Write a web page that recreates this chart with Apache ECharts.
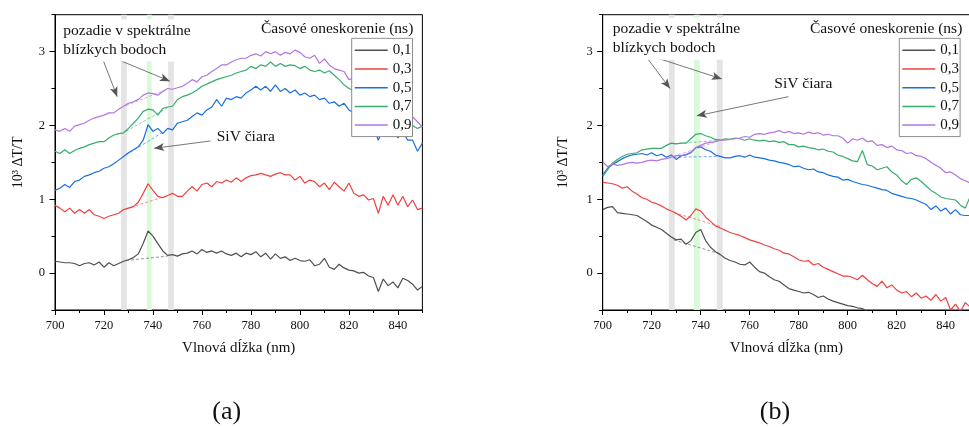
<!DOCTYPE html>
<html>
<head>
<meta charset="utf-8">
<script src="https://cdn.jsdelivr.net/npm/echarts@6/dist/echarts.min.js"></script>
<style>
html,body{margin:0;padding:0;background:#fff;}
#c{width:969px;height:427px;}
</style>
</head>
<body>
<div id="c"></div>
<script>
// ---------- data ----------
const wl = [700,702,704,706,708,710,712,714,716,718,720,722,724,726,728,730,732,734,736,738,
740,742,744,746,748,750,752,754,756,758,760,762,764,766,768,770,772,774,776,778,
780,782,784,786,788,790,792,794,796,798,800,802,804,806,808,810,812,814,816,818,
820,822,824,826,828,830,832,834,836,838,840,842,844,846,848,850];
const delays = ['0,1','0,3','0,5','0,7','0,9'];
const colors = ['#505050','#f14040','#1a6fdf','#37ad6b','#b177de'];

// panel (a)
const a01 = [0.16,0.15,0.14,0.14,0.13,0.10,0.13,0.14,0.11,0.15,
0.08,0.14,0.10,0.13,0.16,0.18,0.21,0.26,0.40,0.57,
0.50,0.40,0.30,0.24,0.25,0.23,0.26,0.27,0.30,0.26,
0.32,0.28,0.30,0.27,0.30,0.26,0.24,0.27,0.22,0.27,
0.25,0.29,0.22,0.27,0.19,0.26,0.20,0.22,0.17,0.20,
0.17,0.16,0.18,0.10,0.12,0.20,0.08,0.05,0.12,0.07,
0.04,0.03,0.00,0.01,-0.04,-0.06,-0.25,-0.08,-0.17,-0.12,
-0.20,-0.07,-0.10,-0.15,-0.23,-0.18];
const a03 = [0.92,0.88,0.83,0.88,0.81,0.86,0.81,0.86,0.79,0.77,
0.74,0.77,0.79,0.81,0.86,0.88,0.90,0.96,1.08,1.21,
1.12,1.04,1.02,1.05,1.08,1.04,1.04,1.11,1.17,1.11,
1.20,1.22,1.17,1.24,1.22,1.26,1.23,1.29,1.24,1.29,
1.32,1.33,1.35,1.33,1.31,1.34,1.36,1.33,1.33,1.26,
1.31,1.22,1.26,1.24,1.17,1.22,1.13,1.23,1.17,1.11,
1.22,1.08,1.04,1.06,0.99,1.01,0.81,1.04,0.92,1.06,
0.92,1.04,0.90,0.99,0.86,0.88];
const a05 = [1.12,1.15,1.20,1.16,1.24,1.26,1.31,1.33,1.36,1.38,
1.42,1.44,1.48,1.53,1.58,1.63,1.67,1.71,1.80,2.01,
1.92,1.96,1.89,1.96,1.94,2.03,2.05,2.07,2.12,2.17,
2.14,2.21,2.25,2.35,2.26,2.37,2.35,2.39,2.37,2.44,
2.48,2.53,2.48,2.53,2.46,2.55,2.46,2.50,2.44,2.48,
2.41,2.44,2.39,2.41,2.35,2.37,2.30,2.32,2.26,2.30,
2.21,2.17,2.14,2.07,2.03,1.98,1.80,1.96,1.85,1.96,
1.83,1.92,1.80,1.80,1.65,1.76];
const a07 = [1.65,1.62,1.67,1.62,1.66,1.69,1.71,1.74,1.76,1.78,
1.78,1.83,1.87,1.89,1.90,1.96,2.03,2.10,2.19,2.22,
2.21,2.14,2.23,2.25,2.26,2.35,2.39,2.41,2.44,2.48,
2.53,2.56,2.59,2.62,2.64,2.66,2.68,2.71,2.73,2.75,
2.80,2.77,2.82,2.80,2.86,2.80,2.84,2.80,2.82,2.81,
2.77,2.80,2.75,2.73,2.75,2.71,2.74,2.68,2.62,2.55,
2.50,2.47,2.44,2.40,2.36,2.32,2.28,2.24,2.20,2.16,
2.12,2.08,2.04,2.00,1.96,1.99];
const a09 = [1.94,1.92,1.96,1.92,1.99,2.01,2.03,2.07,2.10,2.12,
2.14,2.17,2.17,2.22,2.26,2.30,2.32,2.35,2.41,2.44,
2.43,2.41,2.46,2.50,2.49,2.51,2.53,2.57,2.62,2.59,
2.66,2.68,2.73,2.77,2.82,2.82,2.86,2.89,2.91,2.91,
2.95,2.97,2.94,3.00,2.97,3.00,2.95,2.99,2.97,3.02,
2.99,2.93,2.91,2.95,2.84,2.90,2.82,2.77,2.75,2.73,
2.62,2.64,2.62,2.59,2.57,2.55,2.50,2.45,2.40,2.35,
2.30,2.25,2.18,2.12,2.05,1.98];

// panel (b)
const b01 = [0.86,0.89,0.90,0.82,0.81,0.80,0.79,0.78,0.74,0.70,
0.65,0.62,0.59,0.54,0.49,0.45,0.46,0.39,0.44,0.55,
0.59,0.44,0.35,0.29,0.25,
0.20,0.17,0.15,0.12,0.11,0.15,0.08,0.02,0.00,-0.05,
-0.09,-0.11,-0.16,-0.21,-0.23,-0.25,-0.27,-0.26,-0.29,-0.33,
-0.31,-0.35,-0.38,-0.40,-0.42,-0.44,-0.45,-0.47,-0.48,-0.52];
const b03 = [1.23,1.22,1.21,1.19,1.15,1.17,1.11,1.07,1.02,1.00,
0.96,0.94,0.91,0.87,0.84,0.81,0.77,0.72,0.78,0.87,
0.84,0.76,0.70,0.64,0.61,0.58,0.55,0.53,0.51,0.48,
0.45,0.43,0.41,0.38,0.36,0.33,0.31,0.27,0.26,0.22,
0.18,0.16,0.17,0.11,0.13,0.08,0.05,0.02,-0.01,-0.04,
-0.04,-0.06,-0.09,-0.03,-0.09,-0.14,-0.18,-0.11,-0.20,-0.16,
-0.23,-0.27,-0.25,-0.32,-0.27,-0.34,-0.31,-0.37,-0.29,-0.38,
-0.33,-0.50,-0.42,-0.52,-0.40,-0.46];
const b05 = [1.33,1.42,1.47,1.51,1.55,1.58,1.60,1.61,1.62,1.60,
1.63,1.59,1.61,1.57,1.60,1.54,1.59,1.60,1.63,1.70,
1.71,1.67,1.65,1.60,1.58,1.56,1.56,1.58,1.59,1.57,
1.60,1.57,1.56,1.55,1.53,1.52,1.50,1.49,1.47,1.44,
1.45,1.42,1.40,1.41,1.37,1.36,1.33,1.31,1.30,1.26,
1.27,1.24,1.22,1.20,1.19,1.17,1.15,1.13,1.12,1.08,
1.06,1.04,1.02,1.01,0.99,0.96,0.93,0.86,0.91,0.84,
0.88,0.80,0.86,0.79,0.78,0.78];
const b07 = [1.31,1.40,1.49,1.54,1.58,1.61,1.62,1.63,1.67,1.68,
1.69,1.69,1.69,1.73,1.76,1.75,1.76,1.76,1.82,1.88,
1.89,1.86,1.84,1.81,1.80,1.82,1.81,1.83,1.82,1.80,
1.82,1.80,1.79,1.80,1.78,1.79,1.77,1.78,1.74,1.74,
1.71,1.72,1.70,1.69,1.67,1.68,1.65,1.64,1.60,1.58,
1.55,1.52,1.51,1.66,1.47,1.45,1.40,1.42,1.44,1.37,
1.33,1.25,1.20,1.27,1.29,1.24,1.18,1.12,1.08,1.03,
1.01,1.00,0.99,0.92,0.88,1.04];
const b09 = [1.51,1.44,1.48,1.46,1.47,1.49,1.50,1.49,1.50,1.52,
1.53,1.52,1.54,1.55,1.57,1.59,1.59,1.61,1.64,1.70,
1.73,1.76,1.77,1.78,1.80,1.80,1.81,1.82,1.83,1.85,
1.84,1.88,1.89,1.88,1.90,1.91,1.93,1.90,1.92,1.89,
1.90,1.88,1.91,1.89,1.90,1.87,1.88,1.86,1.86,1.83,
1.76,1.82,1.80,1.83,1.78,1.79,1.73,1.74,1.70,1.72,
1.67,1.66,1.62,1.63,1.59,1.58,1.55,1.50,1.46,1.42,
1.36,1.37,1.33,1.28,1.25,1.22];

// background (dashed) lines between the two grey bands
const bgAx = [729, 746];
const bgA01 = [0.17, 0.23], bgA03 = [0.87, 1.05], bgA05 = [1.60, 1.95], bgA07 = [1.92, 2.24], bgA09 = [2.27, 2.49];
const bgBx = [729, 748];
const bgB01 = [0.45, 0.26], bgB03 = [0.82, 0.63], bgB05 = [1.57, 1.58], bgB07 = [1.75, 1.80], bgB09 = [1.58, 1.80];

// bands (nm)
const bandsA = [[727, 729.3], [737.5, 739.5], [746.2, 748.5]];
const bandsB = [[727, 729.4], [737.2, 739.6], [746.6, 749.0]];

// ticks
const xMajor = [700,720,740,760,780,800,820,840];
const xMinor = [710,730,750,770,790,810,830,850];
const yMajor = [0,1,2,3];
const yMinor = [-0.5,0.5,1.5,2.5,3.5];

// annotation arrows (data coords)
const arrowsA = [[[719.0,2.94],[725.4,2.39]], [[726.5,2.88],[746.9,2.60]], [[763.5,1.79],[740.5,1.69]]];
const arrowsB = [[[717.3,2.95],[727.5,2.50]], [[721.6,2.92],[748.6,2.63]], [[775.8,2.39],[738.4,2.13]]];

// ---------- chart ----------
const FONT = '"Liberation Serif","Times New Roman",serif';
const chart = echarts.init(document.getElementById('c'), null, {renderer:'canvas'});

const grids = [
  {left:55, top:14.7, width:367.4, height:295.3},
  {left:602.7, top:14.7, width:367.5, height:295.3}
];

function xAxes(gi){
  return [
    {type:'value', gridIndex:gi, position:'bottom', min:700, max:850, interval:20,
     name: 'Vlnová dĺžka (nm)', nameLocation:'middle', nameGap:31,
     nameTextStyle:{fontFamily:FONT, fontSize:15, color:'#111'},
     axisLine:{show:true, onZero:false, lineStyle:{color:'#000', width:1}},
     axisTick:{show:true, length:5, customValues:xMajor, lineStyle:{color:'#000'}},
     axisLabel:{customValues:xMajor, margin:9, fontFamily:FONT, fontSize:12.5, color:'#111',
       formatter:v => (v % 20 === 0 && v < 850) ? String(v) : ''},
     splitLine:{show:false}},
    {type:'value', gridIndex:gi, position:'bottom', min:700, max:850, interval:10,
     axisLine:{show:false, onZero:false},
     axisTick:{show:true, length:3, customValues:xMinor, lineStyle:{color:'#000'}},
     axisLabel:{show:false}, splitLine:{show:false}}
  ];
}
function yAxes(gi, gap){
  return [
    {type:'value', gridIndex:gi, position:'left', min:-0.5, max:3.5, interval:0.5,
     name:'10³ ΔT/T', nameLocation:'middle', nameGap:gap, nameRotate:90,
     nameTextStyle:{fontFamily:FONT, fontSize:14, color:'#111'},
     axisLine:{show:true, onZero:false, lineStyle:{color:'#000', width:1}},
     axisTick:{show:true, length:5.5, customValues:yMajor, lineStyle:{color:'#000'}},
     axisLabel:{customValues:yMajor, margin:10, fontFamily:FONT, fontSize:12.5, color:'#111',
       formatter:v => Number.isInteger(v) ? String(v) : ''},
     splitLine:{show:false}},
    {type:'value', gridIndex:gi, position:'left', offset:0, min:-0.5, max:3.5, interval:0.5,
     axisLine:{show:false, onZero:false},
     axisTick:{show:true, length:3.5, customValues:yMinor, lineStyle:{color:'#000'}},
     axisLabel:{show:false}, splitLine:{show:false}}
  ];
}

const series = [];
function addPanel(p, vals, bgx, bgs, bands, arrows){
  const xi = p*2, yi = p*2;
  series.push({type:'line', xAxisIndex:xi, yAxisIndex:yi, data:[], z:1, silent:true,
    markArea:{silent:true, data: bands.map((b,i)=>[
      {xAxis:b[0], itemStyle:{color: i===1 ? '#d8fad8' : '#e4e4e4'}}, {xAxis:b[1]}])}});
  bgs.forEach((b,k)=>{
    series.push({type:'line', name:'bg'+p+k, xAxisIndex:xi, yAxisIndex:yi, symbol:'none', silent:true,
      data: bgx.map((x,i)=>[x,b[i]]), z:2,
      lineStyle:{color:colors[k], width:0.8, type:[3,2], opacity:0.75}});
  });
  vals.forEach((v,k)=>{
    series.push({type:'line', name:delays[k], xAxisIndex:xi, yAxisIndex:yi, symbol:'none', showSymbol:false,
      data: v.map((y,i)=>[wl[i], y]), clip:true, z:3,
      lineStyle:{color:colors[k], width:1.2}, itemStyle:{color:colors[k]}});
  });
  series.push({type:'line', xAxisIndex:xi, yAxisIndex:yi, data:[], z:6, silent:true,
    markLine:{silent:true, symbol:['none','arrow'], symbolSize:[6,10],
      lineStyle:{color:'#555', width:0.8, type:'solid'}, label:{show:false},
      data: arrows.map(a=>[{coord:a[0]},{coord:a[1]}])}});
}
addPanel(0, [a01,a03,a05,a07,a09], bgAx, [bgA01,bgA03,bgA05,bgA07,bgA09], bandsA, arrowsA);
addPanel(1, [b01,b03,b05,b07,b09], bgBx, [bgB01,bgB03,bgB05,bgB07,bgB09], bandsB, arrowsB);

function legend(left){
  return {data:delays, orient:'vertical', left:left, top:38.3, itemWidth:33, itemHeight:14, itemGap:3.7,
    padding:[4.5,1,4,2.3], backgroundColor:'#fff', borderColor:'#8c8c8c', borderWidth:1,
    itemStyle:{opacity:0}, lineStyle:{width:1.5},
    textStyle:{fontFamily:FONT, fontSize:15, color:'#111'}, selectedMode:false, z:10};
}

const txt = (x,y,text,extra) => ({type:'text', x:x, y:y, z:100,
  style:Object.assign({text:text, font:'15.5px '+FONT, fill:'#111'}, extra||{})});

chart.setOption({
  animation:false,
  backgroundColor:'#fff',
  grid: grids.map(g=>Object.assign({show:true, borderColor:'#000', borderWidth:1, outerBoundsMode:'none', containLabel:false}, g)),
  xAxis: [...xAxes(0), ...xAxes(1)],
  yAxis: [...yAxes(0, 30), ...yAxes(1, 32)],
  legend: [legend(351.7), legend(899.3)],
  series: series,
  graphic: [
    txt(61.3, 19.5, 'pozadie v spektrálne\nblízkych bodoch', {lineHeight:19, backgroundColor:'#fff', padding:[2,2], verticalAlign:'top'}),
    txt(413.3, 29.3, 'Časové oneskorenie (ns)', {align:'right', verticalAlign:'middle', backgroundColor:'#fff'}),
    txt(216.7, 136.7, 'SiV čiara', {verticalAlign:'middle'}),
    txt(610.7, 17.8, 'pozadie v spektrálne\nblízkych bodoch', {lineHeight:19, backgroundColor:'#fff', padding:[2,2], verticalAlign:'top'}),
    txt(962.3, 29.3, 'Časové oneskorenie (ns)', {align:'right', verticalAlign:'middle', backgroundColor:'#fff'}),
    txt(774.3, 84.3, 'SiV čiara', {verticalAlign:'middle'}),
    txt(226.7, 411.7, '(a)', {align:'center', verticalAlign:'middle', font:'26px '+FONT}),
    txt(775, 411.7, '(b)', {align:'center', verticalAlign:'middle', font:'26px '+FONT})
  ]
});
</script>
</body>
</html>
